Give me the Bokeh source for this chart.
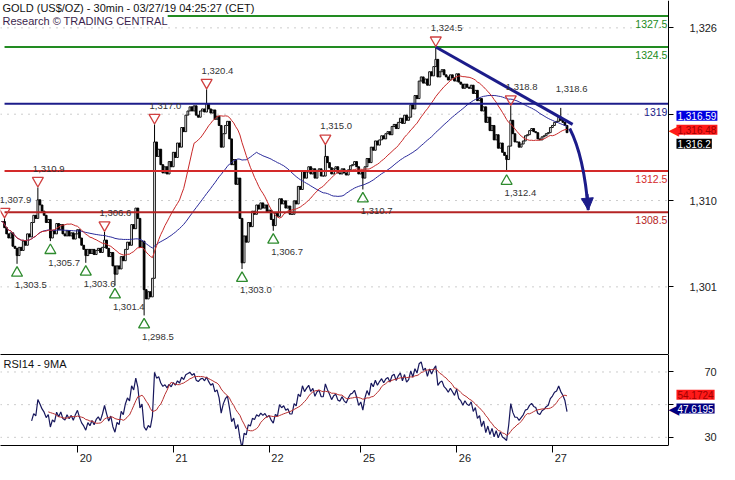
import numpy as np
import pandas as pd
from bokeh.plotting import figure
from bokeh.layouts import column
from bokeh.models import (Range1d, FixedTicker, Label, Arrow, NormalHead,
                          ColumnDataSource, LinearAxis)
from bokeh.core.properties import value
from bokeh.embed import file_html
from bokeh.resources import INLINE

# ---------------- data ----------------
closes = [
    1307.6, 1307.0, 1306.4, 1306.0, 1306.5, 1305.2, 1305.0, 1304.3, 1305.1, 1304.8,
    1305.7, 1305.3, 1306.4, 1306.1, 1307.5, 1308.2, 1307.9, 1309.7, 1309.2, 1308.6,
    1308.2, 1307.5, 1307.8, 1306.0, 1306.7, 1306.4, 1307.4, 1306.8, 1307.3, 1306.4,
    1306.2, 1306.7, 1306.2, 1306.5, 1305.9, 1306.4, 1306.8, 1306.0, 1305.3, 1304.9,
    1304.3, 1304.9, 1304.5, 1304.9, 1304.4, 1304.8, 1305.0, 1304.6, 1305.1, 1305.8,
    1305.0, 1304.2, 1304.6, 1303.3, 1302.5, 1303.3, 1303.0, 1304.2, 1303.8, 1304.9,
    1305.6, 1305.3, 1307.3, 1306.9, 1308.9, 1307.9, 1305.1, 1305.7, 1301.0, 1300.1,
    1300.8, 1300.3, 1302.1, 1315.3, 1313.9, 1314.6, 1313.1, 1312.3, 1312.9, 1312.2,
    1313.4, 1312.9, 1314.3, 1313.8, 1315.2, 1314.8, 1316.7, 1316.3, 1317.9, 1318.3,
    1318.7, 1318.3, 1318.8, 1317.9, 1317.7, 1318.3, 1318.5, 1318.2, 1319.0, 1318.5,
    1318.1, 1318.4, 1317.5, 1317.8, 1316.9, 1314.8, 1316.1, 1316.9, 1317.3, 1315.6,
    1313.1, 1313.6, 1311.2, 1311.8, 1307.9, 1303.6, 1306.2, 1305.6, 1307.5, 1307.1,
    1308.6, 1308.3, 1309.2, 1308.8, 1309.4, 1308.9, 1309.2, 1308.5, 1308.7, 1307.8,
    1307.2, 1308.4, 1308.1, 1309.8, 1309.3, 1309.6, 1308.9, 1309.1, 1308.3, 1308.3,
    1309.6, 1309.3, 1311.0, 1310.7, 1312.5, 1311.8, 1312.4, 1312.9, 1312.2, 1312.7,
    1311.8, 1312.5, 1312.7, 1312.0, 1312.0, 1313.9, 1313.3, 1312.8, 1312.2, 1312.7,
    1312.9, 1312.3, 1312.2, 1312.7, 1312.3, 1312.1, 1312.6, 1313.0, 1313.1, 1313.4,
    1312.9, 1312.2, 1312.5, 1311.8, 1312.9, 1313.7, 1313.3, 1314.8, 1314.5, 1315.4,
    1315.0, 1315.5, 1315.9, 1315.6, 1316.1, 1316.3, 1316.0, 1316.8, 1317.0, 1316.6,
    1317.2, 1317.6, 1317.1, 1317.9, 1317.4, 1317.7, 1318.9, 1318.5, 1319.8, 1319.5,
    1321.2, 1321.6, 1321.0, 1321.4, 1320.8, 1322.1, 1321.7, 1322.6, 1323.3, 1321.6,
    1322.1, 1322.3, 1321.8, 1321.6, 1321.3, 1321.8, 1321.5, 1321.2, 1321.9, 1321.1,
    1320.9, 1320.5, 1320.9, 1320.6, 1320.5, 1320.8, 1320.0, 1320.3, 1319.3, 1319.5,
    1318.3, 1318.7, 1317.2, 1317.7, 1316.4, 1316.9, 1315.5, 1316.0, 1314.7, 1315.2,
    1314.3, 1314.0, 1313.6, 1314.9, 1317.4, 1316.1, 1315.3, 1315.3, 1314.8, 1315.1,
    1315.4, 1315.9, 1316.0, 1316.4, 1316.6, 1316.3, 1316.2, 1315.6, 1315.5, 1315.8,
    1315.9, 1316.1, 1316.2, 1316.7, 1316.9, 1317.2, 1317.3, 1317.7, 1317.4, 1317.2,
    1316.9, 1316.2,
]

pivot_high_idx = [1, 17, 49, 73, 98, 155, 208, 244]
pivot_high_val = [1307.9, 1310.9, 1306.6, 1317.0, 1320.4, 1315.0, 1324.5, 1318.8]
pending_high_idx = [268]
pending_high_val = [1318.6]
pivot_low_idx = [7, 23, 40, 54, 68, 115, 130, 173, 242]
pivot_low_val = [1303.5, 1305.7, 1303.6, 1301.4, 1298.5, 1303.0, 1306.7, 1310.7, 1312.4]

level_vals = [1327.5, 1324.5, 1319.0, 1312.5, 1308.5]
level_text = ["1327.5", "1324.5", "1319", "1312.5", "1308.5"]
level_colors = ["#228b22", "#228b22", "#1c1c8a", "#d42a2a", "#b52424"]
level_start = 1

trend_x = [208, 273.7]
trend_y = [1324.5, 1317.0]
arrow_x = [272.3, 279.2, 281.2]   # start, control, end
arrow_y = [1316.6, 1313.9, 1308.7]

day_start_idx = [36, 82, 128, 172, 218, 264]
day_labels = ["20", "21", "22", "25", "26", "27"]
price_ticks = [1301.27, 1309.63, 1317.99, 1326.35]
price_tick_labels = ["1,301", "1,310", "", "1,326"]
rsi_ticks = [30, 50, 70]
rsi_tick_labels = ["30", "", "70"]

last_ma50 = 1316.59
last_ma20 = 1316.48
last_close = 1316.2
last_rsi_ma = 54.1724
last_rsi = 47.6195

# ---------------- layout constants ----------------
W = 719
MAIN_H = 354
RSI_H = 110
x_lo, x_axis, x_hi = -0.94, 319.7, 344.2   # x_axis: where the price axis sits
p_lo, p_hi = 1294.72, 1329.0
r_lo, r_hi = 25.0, 80.7
ppu = MAIN_H / (p_hi - p_lo)
FONT = "Liberation Sans"
NAVY = "#1c1c8a"
GRID = "#9a9a9a"

# ---------------- derived series ----------------
s = pd.Series(closes, dtype=float)
idx = np.arange(len(closes))
opens = [closes[0]] + closes[:-1]
highs = [max(o, c) for o, c in zip(opens, closes)]
lows = [min(o, c) for o, c in zip(opens, closes)]
for i, v in zip(pivot_high_idx + pending_high_idx, pivot_high_val + pending_high_val):
    highs[i] = max(highs[i], v)
for i, v in zip(pivot_low_idx, pivot_low_val):
    lows[i] = min(lows[i], v)

ma20 = s.rolling(20, min_periods=1).mean()
ma50 = s.rolling(50, min_periods=1).mean()

delta = s.diff()
gain = delta.clip(lower=0)
loss = (-delta).clip(lower=0)
ag = gain.ewm(alpha=1 / 14, adjust=False, min_periods=14).mean()
al = loss.ewm(alpha=1 / 14, adjust=False, min_periods=14).mean()
rsi = 100 - 100 / (1 + ag / al)
rsi_ma = rsi.rolling(9).mean()

candles = ColumnDataSource(dict(
    x=idx, top=[max(o, c) for o, c in zip(opens, closes)],
    bottom=[min(o, c) for o, c in zip(opens, closes)],
    high=highs, low=lows,
    fill=["white" if c >= o else "black" for o, c in zip(opens, closes)],
))

xr = Range1d(x_lo, x_hi)


def style_value_axis(ax, standoff):
    ax.major_tick_out = 5
    ax.major_tick_in = 0
    ax.minor_tick_out = 0
    ax.minor_tick_in = 0
    ax.axis_line_color = "black"
    ax.major_tick_line_color = "black"
    ax.major_label_text_font = FONT
    ax.major_label_text_font_size = "11px"
    ax.major_label_text_color = "#222222"
    ax.major_label_standoff = standoff


def box(fig, yv, txt, bg, fg, dy=0, pointer=False):
    if pointer:
        fig.add_layout(Label(x=x_axis, y=yv, x_offset=0, y_offset=dy, text="\u25c0",
                             text_align="left", text_baseline="middle",
                             text_font="DejaVu Sans", text_font_size="14px",
                             text_color=bg))
    fig.add_layout(Label(x=x_axis, y=yv, x_offset=8, y_offset=dy, text=txt,
                         text_align="left", text_baseline="middle", text_font=FONT,
                         text_font_size="10px", text_color=fg, padding=1,
                         background_fill_color=bg, background_fill_alpha=1.0))


# ---------------- main price panel ----------------
p = figure(width=W, height=MAIN_H, x_range=xr, y_range=Range1d(p_lo, p_hi),
           toolbar_location=None, output_backend="svg",
           x_axis_location=None, y_axis_location=None,
           min_border_left=0, min_border_right=0, min_border_top=0,
           min_border_bottom=0, outline_line_color=None)
p.grid.visible = False

ay = LinearAxis(ticker=FixedTicker(ticks=price_ticks), fixed_location=x_axis)
ay.major_label_overrides = {t: l for t, l in zip(price_ticks, price_tick_labels)}
style_value_axis(ay, 16)
p.add_layout(ay, "right")

n = len(price_ticks)
p.segment(x0=[x_lo] * n, y0=price_ticks, x1=[x_axis] * n, y1=price_ticks,
          line_color=GRID, line_width=1, line_dash="1 6")

p.segment(x0="x", y0="low", x1="x", y1="high", source=candles, line_color="black", line_width=1)
p.vbar(x="x", width=0.85, top="top", bottom="bottom", source=candles,
       fill_color="fill", line_color="black", line_width=0.9)

p.line(idx, ma50, line_color="#2a2a9a", line_width=1)
p.line(idx, ma20, line_color="#c82828", line_width=1)

for v, c in zip(level_vals, level_colors):
    p.segment(x0=[level_start], y0=[v], x1=[x_axis], y1=[v], line_color=c, line_width=2)
p.text(x=[x_axis] * len(level_vals), y=level_vals, text=level_text,
       text_color=level_colors, text_font=value(FONT), text_font_size=value("10.5px"),
       text_align="right", text_baseline="middle", x_offset=-1, y_offset=8)

p.line(trend_x, trend_y, line_color=NAVY, line_width=3)
p.quadratic(x0=[arrow_x[0]], y0=[arrow_y[0]], x1=[arrow_x[2]], y1=[arrow_y[2]],
            cx=[arrow_x[1]], cy=[arrow_y[1]], line_color=NAVY, line_width=3)
hx = arrow_x[2] - 0.3 * (arrow_x[2] - arrow_x[1])
hy = arrow_y[2] - 0.3 * (arrow_y[2] - arrow_y[1])
p.add_layout(Arrow(end=NormalHead(size=12, fill_color=NAVY, line_color=NAVY),
                   x_start=hx, y_start=hy, x_end=arrow_x[2], y_end=arrow_y[2],
                   line_color=NAVY, line_width=3))

# pivots
p.scatter(pivot_high_idx, [v + 6.8 / ppu for v in pivot_high_val],
          marker="inverted_triangle", size=11, line_color="#d04040",
          fill_color=None, line_width=1.3)
p.scatter(pivot_low_idx, [v - 9.2 / ppu for v in pivot_low_val],
          marker="triangle", size=11, line_color="#2e8b2e",
          fill_color=None, line_width=1.3)
hi_idx = pivot_high_idx + pending_high_idx
hi_val = pivot_high_val + pending_high_val
p.text(x=hi_idx, y=hi_val, text=[f"{v:,.1f}" for v in hi_val],
       text_font=value(FONT), text_font_size=value("9.5px"), text_color="#333333",
       text_align="left", text_baseline="middle", x_offset=-5, y_offset=-18.6)
p.text(x=pivot_low_idx, y=pivot_low_val, text=[f"{v:,.1f}" for v in pivot_low_val],
       text_font=value(FONT), text_font_size=value("9.5px"), text_color="#333333",
       text_align="left", text_baseline="middle", x_offset=-2, y_offset=21.4)

# titles
p.add_layout(Label(x=x_lo, y=p_hi, x_offset=2, y_offset=-1,
                   text="GOLD (US$/OZ) - 30min - 03/27/19 04:25:27 (CET)",
                   text_baseline="top", text_align="left", text_font=FONT,
                   text_font_size="11px", text_color="#111111"))
p.add_layout(Label(x=x_lo, y=p_hi, x_offset=2, y_offset=-14,
                   text="Research \u00a9 TRADING CENTRAL",
                   text_baseline="top", text_align="left", text_font=FONT,
                   text_font_size="11px", text_color="#3c1f4d",
                   background_fill_color="white", background_fill_alpha=1.0))

box(p, last_ma20, f"{last_ma20:,.2f}", "#ff1a1a", "#a00000", 0, True)
box(p, last_ma20, f"{last_ma50:,.2f}", "#0000e0", "white", 14)
box(p, last_ma20, f"{last_close:,.1f}", "black", "white", -14)

# ---------------- RSI panel ----------------
r = figure(width=W, height=RSI_H, x_range=xr, y_range=Range1d(r_lo, r_hi),
           toolbar_location=None, output_backend="svg",
           x_axis_location=None, y_axis_location=None,
           min_border_left=0, min_border_right=0, min_border_top=0,
           min_border_bottom=0, outline_line_color=None)
r.grid.visible = False

top_ax = LinearAxis(ticker=FixedTicker(ticks=[]), major_label_text_font_size="0px",
                    major_tick_out=0, major_tick_in=0, minor_tick_out=0, minor_tick_in=0,
                    major_label_standoff=0, axis_line_color="black",
                    bounds=(x_lo, x_axis))
r.add_layout(top_ax, "above")

lab_pos = [d + 4 for d in day_start_idx]
rx = LinearAxis(ticker=FixedTicker(ticks=lab_pos, minor_ticks=day_start_idx),
                bounds=(x_lo, x_axis))
rx.major_label_overrides = {t: l for t, l in zip(lab_pos, day_labels)}
rx.major_tick_out = 0
rx.major_tick_in = 0
rx.minor_tick_out = 7
rx.minor_tick_in = 0
rx.minor_tick_line_color = "black"
rx.axis_line_color = "black"
rx.major_label_text_font = FONT
rx.major_label_text_font_size = "11px"
rx.major_label_text_color = "#222222"
rx.major_label_standoff = 1
r.add_layout(rx, "below")

ry = LinearAxis(ticker=FixedTicker(ticks=rsi_ticks), fixed_location=x_axis)
ry.major_label_overrides = {t: l for t, l in zip(rsi_ticks, rsi_tick_labels)}
style_value_axis(ry, 31)
r.add_layout(ry, "right")

m = len(rsi_ticks)
r.segment(x0=[x_lo] * m, y0=rsi_ticks, x1=[x_axis] * m, y1=rsi_ticks,
          line_color=GRID, line_width=1, line_dash="1 6")

r.line(idx, rsi, line_color="#17175c", line_width=1.2)
r.line(idx, rsi_ma, line_color="#b83030", line_width=1)

r.add_layout(Label(x=x_lo, y=r_hi, x_offset=3, y_offset=-3, text="RSI14 - 9MA",
                   text_baseline="top", text_align="left", text_font=FONT,
                   text_font_size="11px", text_color="#111111"))

box(r, last_rsi, f"{last_rsi:.4f}", "#000080", "white", 0, True)
box(r, last_rsi_ma, f"{last_rsi_ma:.4f}", "#ff1a1a", "#a00000", 3)

layout = column(p, r, spacing=0)
open("out.html", "w").write(file_html(layout, INLINE))
